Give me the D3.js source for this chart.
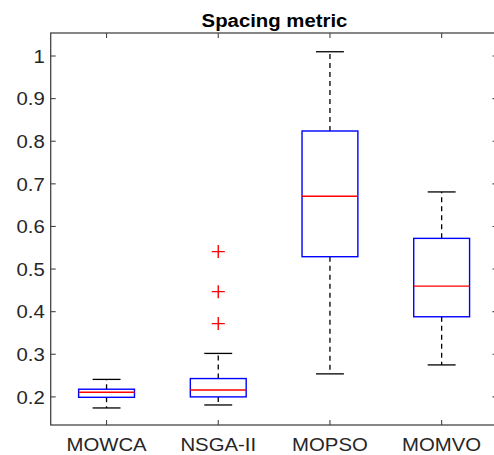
<!DOCTYPE html>
<html>
<head>
<meta charset="utf-8">
<script src="https://cdn.jsdelivr.net/npm/d3@7"></script>
<style>
body { margin: 0; background: #fff; }
svg { display: block; font-family: "Liberation Sans", Arial, sans-serif; }
</style>
</head>
<body>
<div id="chart"></div>
<script>
(function(){
	var width = 494;
	var height = 455;

	// data
	var categories = ["MOWCA", "NSGA-II", "MOPSO", "MOMVO"];
	var whiskerLow  = [0.174, 0.181, 0.254, 0.275];
	var q1          = [0.199, 0.200, 0.529, 0.388];
	var medians     = [0.211, 0.216, 0.671, 0.460];
	var q3          = [0.218, 0.243, 0.824, 0.572];
	var whiskerHigh = [0.241, 0.302, 1.010, 0.681];
	var outliers    = [[], [0.541, 0.447, 0.372], [], []];
	var yTicks = [0.2, 0.3, 0.4, 0.5, 0.6, 0.7, 0.8, 0.9, 1];

	var left = 50.7, right = 497.5, top = 33, bottom = 425;
	var sx = 1.1; // the picture is a bit stretched sideways

	var x = d3.scaleLinear().domain([0.5, 4.5]).range([left, right]);
	var y = d3.scaleLinear().domain([0.134, 1.054]).range([bottom, top]);

	var svg = d3.select('#chart').append('svg')
		.attr('width', width)
		.attr('height', height);

	var axisColor = "#454545";
	var textColor = "#262626";

	// boxes
	var g = svg.append('g');
	categories.forEach(function(c, i){
		var cx = x(i + 1);
		var hw = x(1.25) - x(1);
		var cw = x(1.125) - x(1);

		// whiskers
		g.append('line')
			.attr('x1', cx).attr('x2', cx)
			.attr('y1', y(q3[i])).attr('y2', y(whiskerHigh[i]))
			.attr('stroke', '#000').attr('stroke-width', 1.3)
			.attr('stroke-dasharray', '5,4');
		g.append('line')
			.attr('x1', cx).attr('x2', cx)
			.attr('y1', y(q1[i])).attr('y2', y(whiskerLow[i]))
			.attr('stroke', '#000').attr('stroke-width', 1.3)
			.attr('stroke-dasharray', '5,4');
		[whiskerHigh[i], whiskerLow[i]].forEach(function(v){
			g.append('line')
				.attr('x1', cx - cw).attr('x2', cx + cw)
				.attr('y1', y(v)).attr('y2', y(v))
				.attr('stroke', '#000').attr('stroke-width', 1.3);
		});

		g.append('rect')
			.attr('x', cx - hw)
			.attr('y', y(q3[i]))
			.attr('width', hw * 2)
			.attr('height', y(q1[i]) - y(q3[i]))
			.attr('fill', 'none')
			.attr('stroke', '#0000ff')
			.attr('stroke-width', 1.4);

		g.append('line')
			.attr('x1', cx - hw).attr('x2', cx + hw)
			.attr('y1', y(medians[i])).attr('y2', y(medians[i]))
			.attr('stroke', '#ff0000').attr('stroke-width', 1.4);

		outliers[i].forEach(function(v){
			var s = 6.5;
			g.append('path')
				.attr('d', 'M' + (cx - s) + ',' + y(v) + 'H' + (cx + s) +
					'M' + cx + ',' + (y(v) - s) + 'V' + (y(v) + s))
				.attr('stroke', '#ff0000').attr('stroke-width', 1.4)
				.attr('fill', 'none');
		});
	});

	// axes box
	var ax = svg.append('g');
	ax.append('rect')
		.attr('x', left).attr('y', top)
		.attr('width', right - left).attr('height', bottom - top)
		.attr('fill', 'none')
		.attr('stroke', axisColor).attr('stroke-width', 1.3);

	// y ticks, both sides, pointing in
	yTicks.forEach(function(t){
		ax.append('line')
			.attr('x1', left).attr('x2', left + 5)
			.attr('y1', y(t)).attr('y2', y(t))
			.attr('stroke', axisColor).attr('stroke-width', 1.1);
		ax.append('line')
			.attr('x1', right).attr('x2', right - 5)
			.attr('y1', y(t)).attr('y2', y(t))
			.attr('stroke', axisColor).attr('stroke-width', 1.1);
		ax.append('text')
			.attr('transform', 'translate(' + (left - 6) + ',' + y(t) + ') scale(' + sx + ',1)')
			.attr('text-anchor', 'end')
			.attr('dy', '0.36em')
			.attr('font-size', 18.5)
			.attr('fill', textColor)
			.text(d3.format('')(t));
	});

	// x ticks
	categories.forEach(function(c, i){
		var cx = x(i + 1);
		ax.append('line')
			.attr('x1', cx).attr('x2', cx)
			.attr('y1', bottom).attr('y2', bottom - 5)
			.attr('stroke', axisColor).attr('stroke-width', 1.1);
		ax.append('line')
			.attr('x1', cx).attr('x2', cx)
			.attr('y1', top).attr('y2', top + 5)
			.attr('stroke', axisColor).attr('stroke-width', 1.1);
		ax.append('text')
			.attr('transform', 'translate(' + cx + ',451) scale(' + sx + ',1)')
			.attr('text-anchor', 'middle')
			.attr('font-size', 18.5)
			.attr('fill', textColor)
			.text(c);
	});

	svg.append('text')
		.attr('transform', 'translate(274.5,26.5) scale(' + sx + ',1)')
		.attr('text-anchor', 'middle')
		.attr('font-size', 18.5)
		.attr('font-weight', 'bold')
		.attr('fill', '#000')
		.text("Spacing metric");
})();
</script>
</body>
</html>
